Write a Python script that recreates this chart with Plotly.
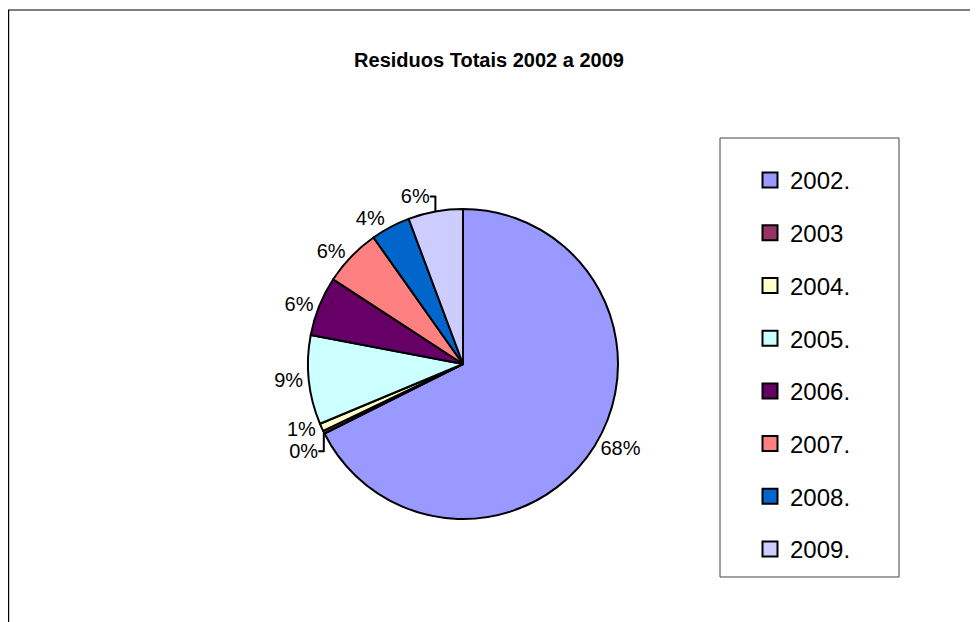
import plotly.graph_objects as go

categories = ["2002.", "2003", "2004.", "2005.", "2006.", "2007.", "2008.", "2009."]
values = [67.6, 0.3, 0.8, 9.3, 6.2, 6.0, 4.1, 5.7]
colors = ["#9999FF", "#993366", "#FFFFCC", "#CCFFFF", "#660066", "#FF8080", "#0066CC", "#CCCCFF"]
title_text = "Residuos Totais 2002 a 2009"

W, H = 978, 622
OX, OY = 8, 8  # page body margin offset
cx, cy, r = 463 - OX, 364 - OY, 155
FONT = "Liberation Sans, Arial"


def px(x):
    return (x - OX) / W


def py(y):
    return 1 - (y - OY) / H


fig = go.Figure()
fig.add_trace(go.Pie(
    labels=categories, values=values, sort=False, direction="clockwise", rotation=0,
    marker=dict(colors=colors, line=dict(color="black", width=2)),
    texttemplate="%{percent:.0%}", textposition="outside",
    textfont=dict(family=FONT, size=20, color="black"),
    showlegend=False,
    domain=dict(x=[(cx - r) / W, (cx + r) / W], y=[1 - (cy + r) / H, 1 - (cy - r) / H]),
))

for i, (c, col) in enumerate(zip(categories, colors)):
    fig.add_trace(go.Scatter(
        x=[None], y=[None], mode="markers", name=c, legendgroup=str(i),
        marker=dict(symbol="square", size=15, color=col, line=dict(color="black", width=2)),
        showlegend=True,
    ))

fig.update_layout(
    width=W, height=H, margin=dict(l=0, r=0, t=0, b=0),
    paper_bgcolor="white", plot_bgcolor="white",
    xaxis=dict(visible=False), yaxis=dict(visible=False),
    title=dict(text=f"<b>{title_text}</b>", x=px(489), xanchor="center", y=py(60), yanchor="middle",
               font=dict(family=FONT, size=20, color="black")),
    legend=dict(x=px(750), y=py(158), xanchor="left", yanchor="top",
                borderwidth=0, bgcolor="rgba(0,0,0,0)",
                font=dict(family=FONT, size=24, color="black"),
                tracegroupgap=18.5, itemwidth=30),
    shapes=[
        dict(type="rect", xref="paper", yref="paper", x0=0.6 / W, x1=1.02, y0=-0.02, y1=py(10),
             line=dict(color="black", width=1.2), layer="below"),
        dict(type="rect", xref="paper", yref="paper", x0=px(720), x1=px(899), y0=py(577), y1=py(138),
             line=dict(color="#444444", width=1), fillcolor="white", layer="below"),
    ],
)

fig.write_html("out.html")
